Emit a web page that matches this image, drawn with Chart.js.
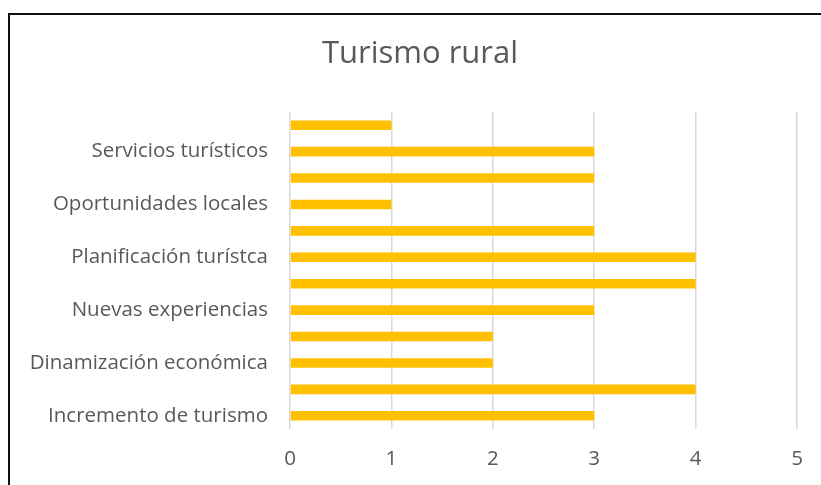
<!DOCTYPE html>
<html>
<head>
<meta charset="utf-8">
<script src="https://cdn.jsdelivr.net/npm/chart.js@4/dist/chart.umd.min.js"></script>
<style>
    html, body { margin: 0; padding: 0; background: #fff; overflow: hidden; }
    #wrap {
        position: absolute;
        left: 8px;
        top: 13px;
        width: 820px;
        height: 470px;
        border-left: 2px solid #111;
        border-top: 2px solid #111;
    }
    #chart { display: block; }
</style>
</head>
<body>
<div id="wrap"><canvas id="chart" width="820" height="470"></canvas></div>
<script>
// bottom to top, as in the original sheet (unlabelled rows are skipped labels)
const categories = [
    'Incremento de turismo', '',
    'Dinamización económica', '',
    'Nuevas experiencias', '',
    'Planificación turístca', '',
    'Oportunidades locales', '',
    'Servicios turísticos', ''
];
const values = [3, 4, 2, 2, 3, 4, 4, 3, 1, 3, 3, 1];
const xTicks = [0, 1, 2, 3, 4, 5];
const chartTitle = 'Turismo rural';

const textColor = '#595959';
const fontFamily = "'Open Sans', sans-serif";

// title centred on the whole chart frame, not on the padded layout box
const centredTitle = {
    id: 'centredTitle',
    afterDraw(chart) {
        const c = chart.ctx;
        c.save();
        c.font = "31px 'Open Sans', sans-serif";
        c.fillStyle = textColor;
        c.textAlign = 'center';
        c.textBaseline = 'alphabetic';
        c.fillText(chartTitle, chart.width / 2, 48);
        c.restore();
    }
};

const ctx = document.getElementById('chart').getContext('2d');
new Chart(ctx, {
    type: 'bar',
    data: {
        labels: categories,
        datasets: [{
            label: chartTitle,
            data: values,
            backgroundColor: '#FFC000',
            borderWidth: 0,
            categoryPercentage: 1,
            barPercentage: 0.36
        }]
    },
    plugins: [centredTitle],
    options: {
        indexAxis: 'y',
        responsive: false,
        animation: false,
        layout: {
            padding: { left: 0, right: 33, top: 97, bottom: 0 }
        },
        plugins: {
            legend: { display: false },
            tooltip: { enabled: false },
            title: { display: false }
        },
        scales: {
            x: {
                min: 0,
                max: 5,
                afterBuildTicks: function(scale) {
                    scale.ticks = xTicks.map(v => ({ value: v }));
                },
                afterFit: function(scale) {
                    scale.height = 56;
                },
                ticks: {
                    color: textColor,
                    padding: 18,
                    font: { family: fontFamily, size: 20.5 }
                },
                grid: {
                    color: '#d9d9d9',
                    lineWidth: 1.5,
                    drawTicks: false
                },
                border: { display: false }
            },
            y: {
                reverse: true,
                afterFit: function(scale) {
                    scale.width = 280;
                },
                ticks: {
                    autoSkip: false,
                    color: textColor,
                    padding: 14,
                    font: { family: fontFamily, size: 20.5 }
                },
                grid: { display: false },
                border: { display: false }
            }
        }
    }
});
</script>
</body>
</html>
